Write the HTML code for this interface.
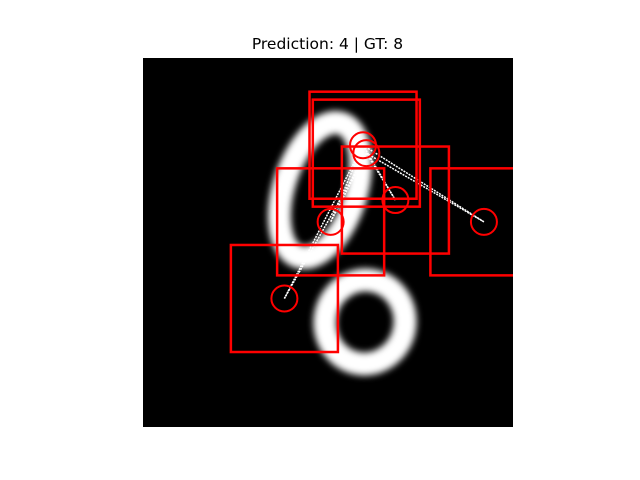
<!DOCTYPE html>
<html><head><meta charset="utf-8"><style>
html,body{margin:0;padding:0;background:#fff;width:640px;height:480px;overflow:hidden}
svg{display:block}
</style></head><body>
<svg id="chart" width="640" height="480" viewBox="0 0 640 480" xmlns="http://www.w3.org/2000/svg">
<defs>
<filter id="blur" x="-50%" y="-50%" width="200%" height="200%"><feGaussianBlur stdDeviation="3.5"/></filter>
<clipPath id="clip"><rect x="143" y="58" width="370" height="369"/></clipPath>
</defs>
<text x="327.5" y="49" text-anchor="middle" font-family="DejaVu Sans, Liberation Sans, sans-serif" font-size="15.5" fill="#000">Prediction: 4 | GT: 8</text>
<rect x="143" y="58" width="370" height="369" fill="#000"/>
<g clip-path="url(#clip)" filter="url(#blur)" fill="none" stroke="#fff" stroke-width="23">
<ellipse cx="320" cy="190" rx="36" ry="70" transform="rotate(18 320 190)"/>
<ellipse cx="365" cy="322" rx="40" ry="42" transform="rotate(10 365 322)"/>
</g>
<g id="marks" clip-path="url(#clip)"></g>
</svg>
<script>
// glimpse centers in image pixel units (28x28 image), and glimpse size
const glimpseX = [16.65, 16.9, 19.1, 14.2, 25.8, 10.7];
const glimpseY = [6.6, 7.2, 10.75, 12.4, 12.4, 18.2];
const glimpseSize = [8.1, 8.1, 8.1, 8.1, 8.1, 8.1];
const x0 = 143, y0 = 58, pxPerUnit = 370 / 28;
const xs = v => x0 + v * pxPerUnit;
const ys = v => y0 + v * pxPerUnit;
const ns = 'http://www.w3.org/2000/svg';
const g = document.getElementById('marks');
for (let i = 2; i < glimpseX.length; i++) {
  for (let j = 0; j < 2; j++) {
    const l = document.createElementNS(ns, 'line');
    
    
    l.setAttribute('x1', xs(glimpseX[j])); l.setAttribute('y1', ys(glimpseY[j]));
    l.setAttribute('x2', xs(glimpseX[i])); l.setAttribute('y2', ys(glimpseY[i]));
    l.setAttribute('stroke', '#fff'); l.setAttribute('stroke-width', '1.5');
    l.setAttribute('stroke-dasharray', '2 1');
    g.appendChild(l);
  }
}
for (let i = 0; i < glimpseX.length; i++) {
  const s = glimpseSize[i] * pxPerUnit;
  const r = document.createElementNS(ns, 'rect');
  
  
  r.setAttribute('x', xs(glimpseX[i]) - s / 2); r.setAttribute('y', ys(glimpseY[i]) - s / 2);
  r.setAttribute('width', s); r.setAttribute('height', s);
  r.setAttribute('fill', 'none'); r.setAttribute('stroke', '#f00'); r.setAttribute('stroke-width', '2.5');
  g.appendChild(r);
  const c = document.createElementNS(ns, 'circle');
  
  
  c.setAttribute('cx', xs(glimpseX[i])); c.setAttribute('cy', ys(glimpseY[i]));
  c.setAttribute('r', 13);
  c.setAttribute('fill', 'none'); c.setAttribute('stroke', '#f00'); c.setAttribute('stroke-width', '2');
  g.appendChild(c);
}
</script>
</body></html>
